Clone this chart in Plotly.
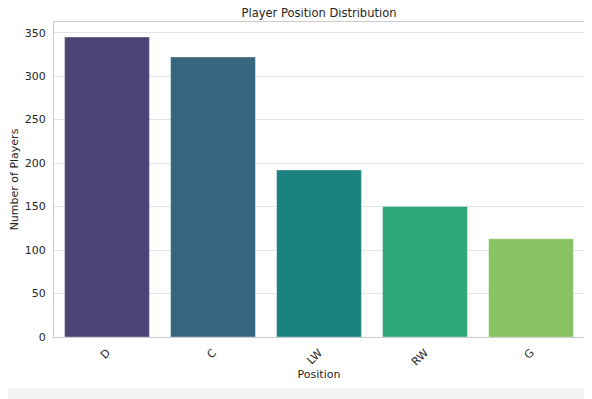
import plotly.graph_objects as go

positions = ["D", "C", "LW", "RW", "G"]
counts = [345, 322, 192, 150, 113]
bar_colors = ["#4b4475", "#366680", "#1b837f", "#2ea77a", "#87c362"]
y_ticks = [0, 50, 100, 150, 200, 250, 300, 350]

# page body has an 8px margin, so the figure is offset by (8, 8) in the window
W, H = 584, 391
L, R, T, B = 46, 8, 14, 62
pw, ph = W - L - R, H - T - B

fig = go.Figure(go.Bar(
    x=positions, y=counts, marker_color=bar_colors, width=0.8,
    marker_line_width=0.6, marker_line_color="rgba(255,255,255,0.6)",
))

def px2paper_x(px):
    return (px - L) / pw

def px2paper_y(py):
    return (H - B - py) / ph

fig.add_shape(type="rect", xref="paper", yref="paper", layer="below",
              x0=px2paper_x(-8), x1=px2paper_x(581), y0=px2paper_y(380), y1=px2paper_y(-8),
              fillcolor="white", line_width=0)

font = "DejaVu Sans, sans-serif"
fig.update_layout(
    width=W, height=H,
    margin=dict(l=L, r=R, t=T, b=B, autoexpand=False),
    paper_bgcolor="#f4f4f4", plot_bgcolor="white",
    font=dict(family=font, size=11, color="#262626"),
    title=dict(text="Player Position Distribution", x=(L + pw / 2) / W, xanchor="center",
               y=1 - 5 / H, yanchor="middle", font=dict(size=11.5, color="#262626"),
               automargin=False),
    showlegend=False, bargap=0.2,
)
fig.update_xaxes(
    range=[-0.5, 4.5], tickangle=-45, showgrid=False, showline=True, mirror=True,
    linecolor="#cccccc", linewidth=1, ticks="outside", ticklen=4,
    tickcolor="rgba(0,0,0,0)", automargin=False,
    title=dict(text="Position", font=dict(size=11), standoff=2),
)
fig.update_yaxes(
    range=[0, 345 * 1.05], tickvals=y_ticks, showgrid=True, gridcolor="#e3e3e3",
    gridwidth=1, showline=True, mirror=True, linecolor="#cccccc", linewidth=1,
    zeroline=False, ticks="outside", ticklen=5, tickcolor="rgba(0,0,0,0)",
    automargin=False,
    title=dict(text="Number of Players", font=dict(size=11), standoff=7),
)

fig.write_html("out.html")
